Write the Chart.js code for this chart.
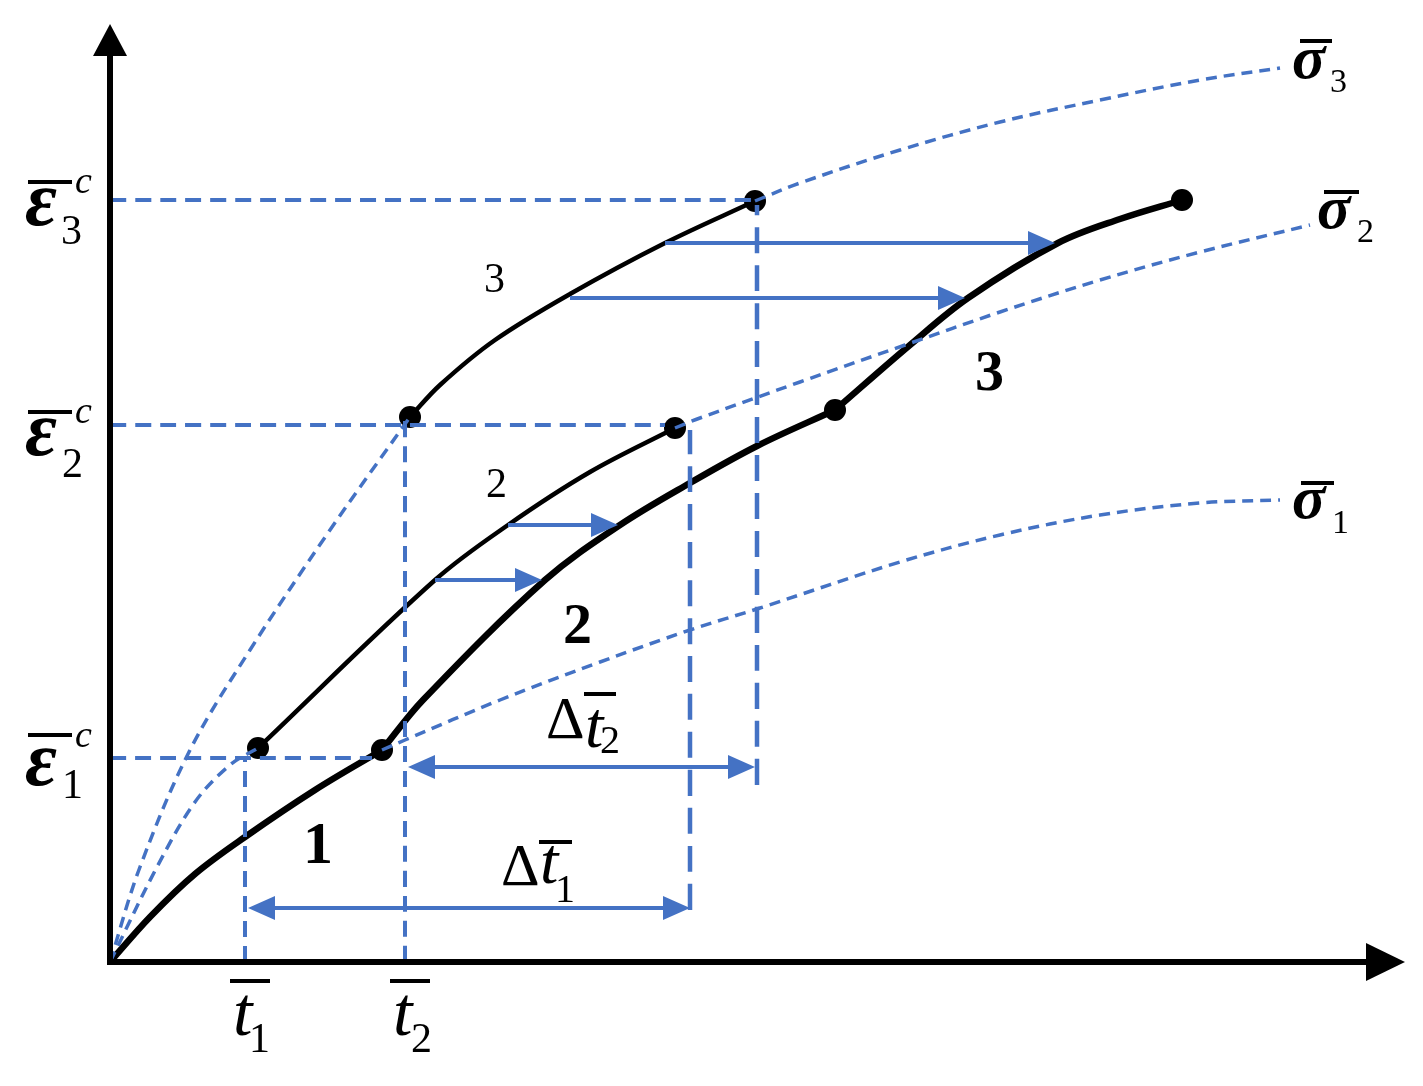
<!DOCTYPE html>
<html>
<head>
<meta charset="utf-8">
<script src="https://cdn.jsdelivr.net/npm/chart.js@4.4.0/dist/chart.umd.min.js"></script>
<style>
html, body { margin: 0; padding: 0; background: #fff; }
#wrap { width: 1423px; height: 1086px; position: relative; }
#warm { position: absolute; left: -9999px; top: 0; font-family: "Liberation Serif"; }
</style>
</head>
<body>
<div id="warm"><b><i>εσ</i></b> <i>tc</i> Δ123</div>
<div id="wrap"><canvas id="creepChart"></canvas></div>
<script>
// time (x) vs strain (y), arbitrary units, origin at the axes corner
var creep1 = [[0, 0], [0.40, 0.45], [0.85, 0.88], [1.35, 1.25], [2.05, 1.72], [2.72, 2.12]];
var creep2 = [[2.72, 2.12], [3.13, 2.62], [4.35, 3.82], [5.10, 4.37], [5.80, 4.79], [6.47, 5.16], [7.25, 5.52]];
var creep3 = [[7.25, 5.52], [8.00, 6.17], [8.58, 6.64], [9.48, 7.19], [10.10, 7.43], [10.72, 7.62]];
var shifted2 = [[1.48, 2.14], [3.25, 3.82], [3.98, 4.37], [4.80, 4.90], [5.65, 5.34]];
var shifted3 = [[3.00, 5.45], [3.30, 5.77], [3.85, 6.22], [4.60, 6.68], [5.55, 7.19], [6.45, 7.61]];

// constant stress curves (dashed)
var sigma1 = [[2.72, 2.12], [2.95, 2.22], [3.90, 2.62], [4.90, 3.00], [5.80, 3.32], [6.50, 3.54], [7.90, 4.00], [8.90, 4.27], [9.90, 4.47], [10.90, 4.59], [11.70, 4.62]];
var sigma2a = [[0, 0], [0.47, 0.95], [0.85, 1.60], [1.20, 1.97], [1.48, 2.14]];
var sigma2b = [[5.65, 5.34], [5.90, 5.44], [6.90, 5.80], [7.95, 6.17], [8.90, 6.50], [9.90, 6.82], [10.90, 7.10], [12.00, 7.37]];
var sigma3a = [[0, 0], [0.30, 0.95], [0.80, 2.12], [1.40, 3.12], [2.20, 4.32], [3.00, 5.45]];
var sigma3b = [[6.45, 7.61], [6.90, 7.79], [7.90, 8.12], [8.90, 8.40], [9.90, 8.62], [10.90, 8.82], [11.70, 8.94]];

var loadPoints = [[1.48, 2.14], [2.72, 2.12], [3.00, 5.45], [5.65, 5.34], [7.25, 5.52], [6.45, 7.61], [10.72, 7.62]];

// guide lines [x0, y0, x1, y1]
var guideShort = [[0, 2.04, 2.62, 2.04], [0, 5.37, 5.55, 5.37], [0, 7.62, 6.45, 7.62], [1.35, 0, 1.35, 2.04], [2.95, 0, 2.95, 5.42]];
var guideLong = [[5.80, 0.52, 5.80, 5.32], [6.47, 1.77, 6.47, 7.57]];

// arrows [x0, x1, y]
var shiftArrows = [[5.55, 9.45, 7.19], [4.60, 8.55, 6.64], [3.98, 5.08, 4.37], [3.25, 4.32, 3.82]];
var spanArrows = [[1.38, 5.80, 0.54], [2.98, 6.45, 1.95]];

var BLUE = '#4472C4';

function pts(arr) {
    return arr.map(function (p) { return {x: p[0], y: p[1]}; });
}

var datasets = [];
function addCurve(arr, color, width, dash) {
    datasets.push({
        data: pts(arr), showLine: true, borderColor: color, borderWidth: width,
        borderDash: dash || [], pointRadius: 0, tension: 0.35, fill: false
    });
}
guideShort.forEach(function (g) { addCurve([[g[0], g[1]], [g[2], g[3]]], BLUE, 4, [16, 9]); });
guideLong.forEach(function (g) { addCurve([[g[0], g[1]], [g[2], g[3]]], BLUE, 4.5, [26, 12]); });
[sigma1, sigma2a, sigma2b, sigma3a, sigma3b].forEach(function (s) { addCurve(s, BLUE, 3.5, [11, 7]); });
addCurve(shifted2, '#000', 4.5);
addCurve(shifted3, '#000', 4.5);
addCurve(creep1, '#000', 6.5);
addCurve(creep2, '#000', 6.5);
addCurve(creep3, '#000', 6.5);
datasets.push({
    data: pts(loadPoints), showLine: false, pointRadius: 11, pointBackgroundColor: '#000',
    pointBorderWidth: 0
});

var SERIF = '"Liberation Serif", "Times New Roman", Tinos, Times, serif';

// labels: anchor in data units, parts offset in pixels
var labels = [
    {x: -0.85, y: 7.37, parts: [
        ['ε', 'bold italic 78px', 0, 0], ['3', '42px', 36, 19], ['c', 'italic 38px', 50, -32]], bar: [3, 47, -43]},
    {x: -0.85, y: 5.07, parts: [
        ['ε', 'bold italic 78px', 0, 0], ['2', '42px', 37, 22], ['c', 'italic 38px', 50, -32]], bar: [3, 47, -43]},
    {x: -0.85, y: 1.77, parts: [
        ['ε', 'bold italic 78px', 0, 0], ['1', '42px', 37, 13], ['c', 'italic 38px', 50, -38]], bar: [3, 47, -50]},
    {x: 1.23, y: -0.73, parts: [['t', 'italic 70px', 0, 0], ['1', '42px', 16, 17]], bar: [-3, 37, -54]},
    {x: 2.83, y: -0.73, parts: [['t', 'italic 70px', 0, 0], ['2', '42px', 18, 17]], bar: [-3, 37, -54]},
    {x: 11.82, y: 8.84, parts: [['σ', 'bold italic 62px', 0, 0], ['3', '34px', 38, 14]], bar: [8, 40, -37]},
    {x: 12.07, y: 7.34, parts: [['σ', 'bold italic 62px', 0, 0], ['2', '34px', 40, 14]], bar: [7, 42, -36]},
    {x: 11.82, y: 4.44, parts: [['σ', 'bold italic 62px', 0, 0], ['1', '34px', 40, 15]], bar: [9, 42, -35]},
    {x: 4.36, y: 2.24, parts: [['Δ', '60px', 0, 0], ['t', 'italic 66px', 39, 9], ['2', '40px', 54, 15]], bar: [38, 70, -44]},
    {x: 3.91, y: 0.77, parts: [['Δ', '60px', 0, 0], ['t', 'italic 66px', 39, -2], ['1', '40px', 54, 17]], bar: [38, 71, -43]},
    {x: 1.93, y: 0.99, parts: [['1', 'bold 60px', 0, 0]]},
    {x: 4.53, y: 3.19, parts: [['2', 'bold 58px', 0, 0]]},
    {x: 8.65, y: 5.72, parts: [['3', 'bold 58px', 0, 0]]},
    {x: 3.74, y: 6.70, parts: [['3', '42px', 0, 0]]},
    {x: 3.76, y: 4.65, parts: [['2', '42px', 0, 0]]}
];

function arrowHead(ctx, x, y, dir, len, half) {
    ctx.beginPath();
    ctx.moveTo(x, y);
    ctx.lineTo(x - dir * len, y - half);
    ctx.lineTo(x - dir * len, y + half);
    ctx.closePath();
    ctx.fill();
}

var figurePlugin = {
    id: 'figureExtras',
    afterDatasetsDraw: function (chart) {
        var ctx = chart.ctx;
        var sx = chart.scales.x, sy = chart.scales.y;
        var X = function (v) { return sx.getPixelForValue(v); };
        var Y = function (v) { return sy.getPixelForValue(v); };
        ctx.save();

        // axes
        ctx.strokeStyle = '#000';
        ctx.fillStyle = '#000';
        ctx.lineWidth = 6;
        ctx.beginPath();
        ctx.moveTo(X(0), Y(9.10));
        ctx.lineTo(X(0), Y(0));
        ctx.lineTo(X(12.60), Y(0));
        ctx.stroke();
        ctx.beginPath();
        ctx.moveTo(X(0), Y(9.38));
        ctx.lineTo(X(0) - 17, Y(9.06));
        ctx.lineTo(X(0) + 17, Y(9.06));
        ctx.closePath();
        ctx.fill();
        arrowHead(ctx, X(12.95), Y(0), 1, 39, 19);

        // blue arrows
        ctx.strokeStyle = BLUE;
        ctx.fillStyle = BLUE;
        ctx.lineWidth = 4;
        shiftArrows.forEach(function (a) {
            ctx.beginPath();
            ctx.moveTo(X(a[0]), Y(a[2]));
            ctx.lineTo(X(a[1]) - 20, Y(a[2]));
            ctx.stroke();
            arrowHead(ctx, X(a[1]), Y(a[2]), 1, 27, 12);
        });
        spanArrows.forEach(function (a) {
            ctx.beginPath();
            ctx.moveTo(X(a[0]) + 20, Y(a[2]));
            ctx.lineTo(X(a[1]) - 20, Y(a[2]));
            ctx.stroke();
            arrowHead(ctx, X(a[0]), Y(a[2]), -1, 27, 12);
            arrowHead(ctx, X(a[1]), Y(a[2]), 1, 27, 12);
        });

        // text
        ctx.fillStyle = '#000';
        ctx.strokeStyle = '#000';
        ctx.textBaseline = 'alphabetic';
        ctx.textAlign = 'left';
        labels.forEach(function (l) {
            var x0 = X(l.x), y0 = Y(l.y);
            l.parts.forEach(function (p) {
                ctx.font = p[1] + ' ' + SERIF;
                ctx.fillText(p[0], x0 + p[2], y0 + p[3]);
            });
            if (l.bar) {
                ctx.lineWidth = 4;
                ctx.beginPath();
                ctx.moveTo(x0 + l.bar[0], y0 + l.bar[2]);
                ctx.lineTo(x0 + l.bar[1], y0 + l.bar[2]);
                ctx.stroke();
            }
        });
        ctx.restore();
    }
};

var chart = new Chart(document.getElementById('creepChart').getContext('2d'), {
    type: 'scatter',
    data: {datasets: datasets},
    options: {
        responsive: true,
        maintainAspectRatio: false,
        animation: false,
        layout: {padding: 0, autoPadding: false},
        plugins: {legend: {display: false}, tooltip: {enabled: false}},
        scales: {
            x: {type: 'linear', min: -1.10, max: 13.13, display: false},
            y: {type: 'linear', min: -1.24, max: 9.62, display: false}
        }
    },
    plugins: [figurePlugin]
});
if (document.fonts && document.fonts.ready) {
    document.fonts.ready.then(function () { chart.update(); });
}
</script>
</body>
</html>
